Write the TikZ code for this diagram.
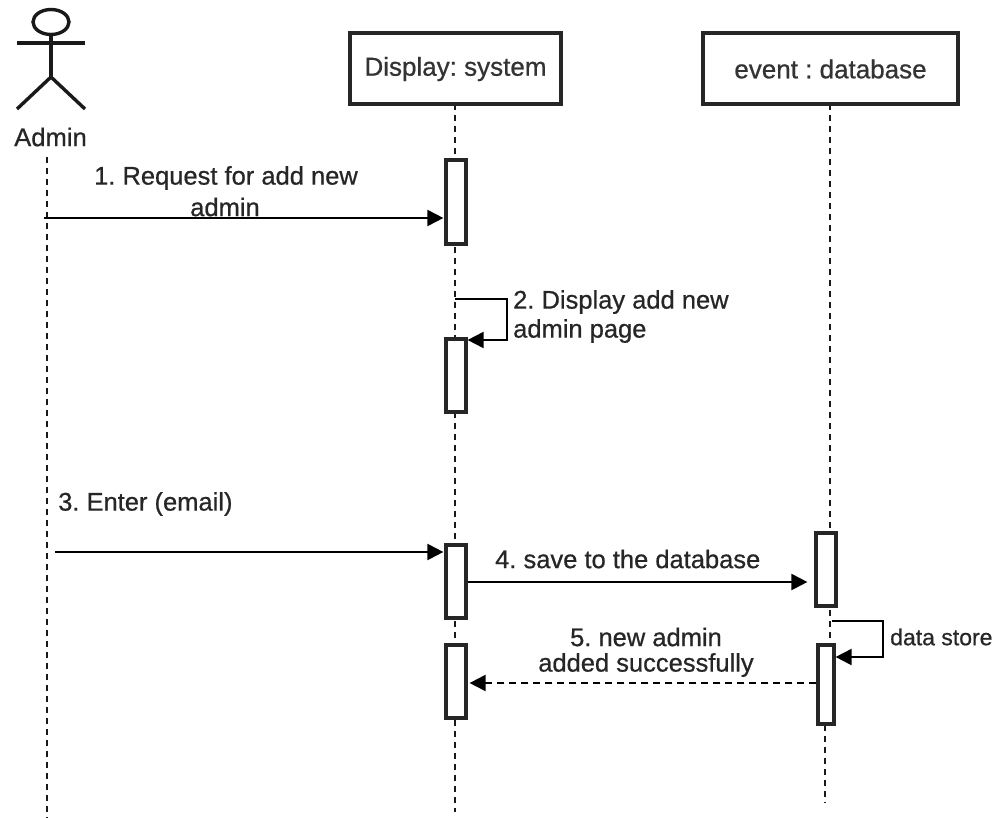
\documentclass[tikz,border=0pt]{standalone}
\usepackage{fontspec}
\setmainfont[FakeBold=0.7]{Liberation Sans}
\usetikzlibrary{arrows.meta,shapes.geometric}
\tikzset{
  x=1pt,y=-1pt,
  life/.style={line width=1.6pt,dash pattern=on 6pt off 5pt,color=black!90},
  obj/.style={draw=black!85,line width=4pt,fill=white,minimum width=#1,minimum height=71pt,inner sep=0pt,font=\fontsize{26}{28}\selectfont,text=black!80},
  act/.style={draw=black!85,line width=3.2pt,fill=white,inner sep=0pt},
  msg/.style={line width=2pt,-{Triangle[length=16pt,width=16pt]},color=black},
  lbl/.style={inner sep=0pt,align=center,font=\fontsize{25.5}{29}\selectfont,text=black!85},
  stick/.style={line width=3.4pt,color=black!90}
}
\newcommand{\actbox}[5]{\node[act,minimum width=#4pt,minimum height=#5pt] (#1) at (#2,#3) {};}
\begin{document}
\frenchspacing
\begin{tikzpicture}
\useasboundingbox (0,0) rectangle (1000,818);
% actor
\node[draw=black!90,line width=3.4pt,ellipse,minimum width=36pt,minimum height=25pt,inner sep=0pt] (head) at (51,22) {};
\coordinate (armL) at (17,43); \coordinate (armR) at (85,43);
\coordinate (hip) at (51,77); \coordinate (legL) at (17,109); \coordinate (legR) at (85,109);
\draw[stick] (head.south) -- (hip);
\draw[stick] (armL) -- (armR);
\draw[stick] (legL) -- (hip) -- (legR);
\node[lbl,font=\fontsize{25.6}{26}\selectfont] (admin) at (50.5,137) {Admin};
% objects
\coordinate (a0) at (47,157); \coordinate (a1) at (47,818);
\coordinate (s0) at (455,104); \coordinate (s1) at (455,812);
\coordinate (d0) at (830,104); \coordinate (d1) at (830,644);
\coordinate (d2) at (825,725); \coordinate (d3) at (825,803);
\draw[life] (a0) -- (a1);
\draw[life] (s0) -- (s1);
\draw[life] (d0) -- (d1);
\draw[life] (d2) -- (d3);
\node[obj=211pt] (sys) at (455.5,69) {Display: system};
\node[obj=255pt] (db) at (830.5,69) {event : database};
% activations
\actbox{s1a}{456}{202}{20}{84}
\actbox{s2a}{456}{375.5}{20}{73}
\actbox{s3a}{456}{581.5}{20}{73}
\actbox{s4a}{456}{681.5}{20}{73}
\actbox{d1a}{826}{569.5}{20}{73}
\actbox{d2a}{826}{684.5}{16}{79}
% connectors
\coordinate (m1s) at (44,218);
\draw[msg] (m1s) -- ([xshift=-1pt]s1a.west |- m1s);
\coordinate (m2s) at (455,299); \coordinate (m2a) at (507,299); \coordinate (m2b) at (507,340);
\draw[msg] (m2s) -- (m2a) -- (m2b) -- (s2a.east |- m2b);
\coordinate (m3s) at (55,552);
\draw[msg] (m3s) -- ([xshift=-1pt]s3a.west |- m3s);
\coordinate (m4s) at (467,582);
\draw[msg] (s3a.east |- m4s) -- ([xshift=-7pt]d1a.west |- m4s);
\coordinate (m5s) at (817,683);
\draw[msg,dashed,dash pattern=on 7pt off 5pt] (d2a.west |- m5s) -- ([xshift=2pt]s4a.east |- m5s);
\coordinate (m6s) at (832,621); \coordinate (m6a) at (883,621); \coordinate (m6b) at (883,657);
\draw[msg] (m6s) -- (m6a) -- (m6b) -- (d2a.east |- m6b);
% labels
\node[lbl] (l1) at (226,178) {1. Request for add new};
\node[lbl] (l1b) at (225,207) {admin};
\node[lbl,anchor=west] (l2) at (513,302) {2. Display add new};
\node[lbl,anchor=west] (l2b) at (513,331) {admin page};
\node[lbl,anchor=west] (l3) at (58,504) {3. Enter (email)};
\node[lbl,anchor=west] (l4) at (495,559) {4. save to the database};
\node[lbl] (l5) at (646,637) {5. new admin};
\node[lbl] (l5b) at (646,665) {added successfully};
\node[lbl,anchor=west,font=\fontsize{23}{24}\selectfont] (l6) at (890,637) {data store};
\end{tikzpicture}
\end{document}
